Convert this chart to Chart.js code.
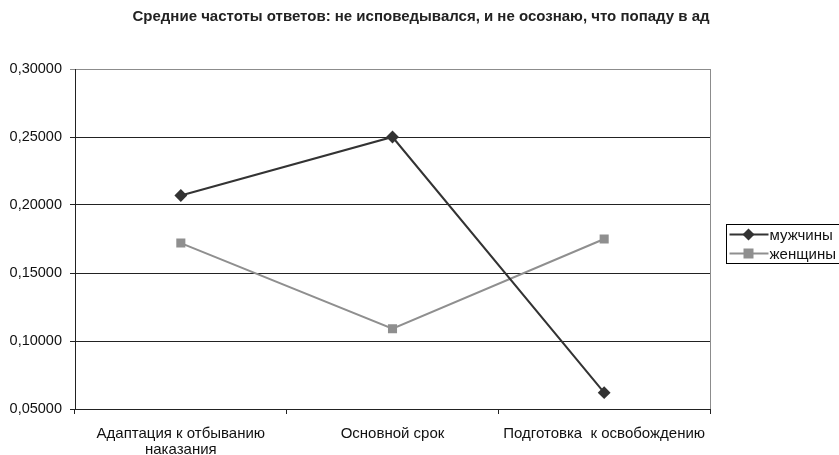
<!DOCTYPE html>
<html>
<head>
<meta charset="utf-8">
<script src="https://cdn.jsdelivr.net/npm/chart.js@4"></script>
<style>
  html, body { margin: 0; padding: 0; background: #fff; }
  #wrap { width: 839px; height: 455px; }
</style>
</head>
<body>
<div id="wrap"><canvas id="chart"></canvas></div>
<script>
const titleText = "Средние частоты ответов: не исповедывался, и не осознаю, что попаду в ад";
const categories = [["Адаптация к отбыванию", "наказания"], "Основной срок", "Подготовка  к освобождению"];
const menValues = [0.207, 0.250, 0.062];
const womenValues = [0.172, 0.109, 0.175];
const seriesNames = ["мужчины", "женщины"];

const FONT = "'Liberation Sans', Arial, sans-serif";

// title, right border of plot area and legend box
const decor = {
  id: "decor",
  afterDraw(chart) {
    const ctx = chart.ctx;
    const a = chart.chartArea;
    ctx.save();
    ctx.fillStyle = "#222";
    ctx.font = "bold 15px " + FONT;
    ctx.textAlign = "center";
    ctx.textBaseline = "middle";
    ctx.fillText(titleText, 421, 17);

    ctx.strokeStyle = "#8c8c8c";
    ctx.lineWidth = 1;
    ctx.beginPath();
    ctx.moveTo(Math.round(a.right) + 0.5, a.top);
    ctx.lineTo(Math.round(a.right) + 0.5, a.bottom);
    ctx.stroke();

    // legend
    const bx = 726.5, by = 224.5, bw = 115, bh = 39;
    ctx.strokeStyle = "#000";
    ctx.strokeRect(bx, by, bw, bh);
    ctx.font = "15px " + FONT;
    ctx.textAlign = "left";
    chart.data.datasets.forEach((ds, i) => {
      const y = by + 10 + i * 19;
      ctx.strokeStyle = ds.borderColor;
      ctx.lineWidth = 2;
      ctx.beginPath();
      ctx.moveTo(bx + 3, y);
      ctx.lineTo(bx + 42, y);
      ctx.stroke();
      ctx.fillStyle = ds.backgroundColor;
      const cx = bx + 22;
      if (ds.pointStyle === "rectRot") {
        ctx.beginPath();
        ctx.moveTo(cx, y - 6); ctx.lineTo(cx + 6, y); ctx.lineTo(cx, y + 6); ctx.lineTo(cx - 6, y);
        ctx.closePath();
        ctx.fill();
      } else {
        ctx.fillRect(cx - 5, y - 5, 10, 10);
      }
      ctx.fillStyle = "#111";
      ctx.fillText(ds.label, bx + 43, y + 1);
    });
    ctx.restore();
  }
};

new Chart(document.getElementById("chart"), {
  type: "line",
  data: {
    labels: categories,
    datasets: [
      {
        label: seriesNames[0],
        data: menValues,
        borderColor: "#333333",
        backgroundColor: "#333333",
        borderWidth: 2,
        pointStyle: "rectRot",
        pointRadius: 5,
        pointHoverRadius: 5,
        tension: 0
      },
      {
        label: seriesNames[1],
        data: womenValues,
        borderColor: "#8f8f8f",
        backgroundColor: "#8f8f8f",
        borderWidth: 2,
        pointStyle: "rect",
        pointRadius: 5,
        pointHoverRadius: 5,
        tension: 0
      }
    ]
  },
  options: {
    responsive: true,
    maintainAspectRatio: false,
    animation: false,
    layout: { padding: { top: 69, right: 129, left: 0, bottom: 0 } },
    plugins: {
      legend: { display: false },
      title: { display: false },
      tooltip: { enabled: false }
    },
    scales: {
      x: {
        offset: true,
        grid: {
          offset: true,
          drawOnChartArea: false,
          drawTicks: true,
          tickLength: 5,
          color: "#222"
        },
        border: { color: "#222", width: 1 },
        ticks: {
          color: "#111",
          font: { family: FONT, size: 15, lineHeight: 1.05 },
          padding: 12,
          maxRotation: 0,
          autoSkip: false
        },
        afterFit(s) { s.height = 46; }
      },
      y: {
        min: 0.05,
        max: 0.30,
        grid: {
          color: ctx => (ctx.tick && ctx.tick.value >= 0.3 ? "#8c8c8c" : "#222"),
          tickLength: 5,
          drawTicks: true
        },
        border: { color: "#222", width: 1 },
        ticks: {
          stepSize: 0.05,
          color: "#111",
          font: { family: FONT, size: 14.5 },
          padding: 8,
          callback: v => v.toFixed(5).replace(".", ",")
        },
        afterFit(s) { s.width = 75; }
      }
    }
  },
  plugins: [decor]
});
</script>
</body>
</html>
